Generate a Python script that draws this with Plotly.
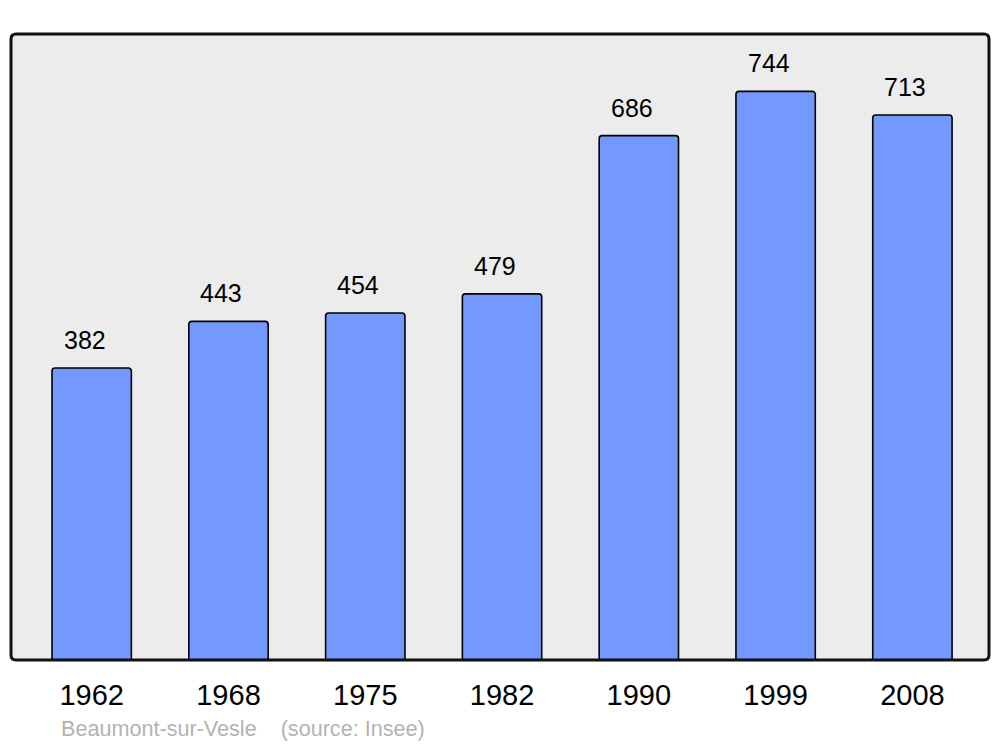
import plotly.graph_objects as go

years = ["1962", "1968", "1975", "1982", "1990", "1999", "2008"]
population = [382, 443, 454, 479, 686, 744, 713]
footer_text = "Beaumont-sur-Vesle    (source: Insee)"

# page has 8px body margin; figure sized to fit the 1000x747 window
W, H = 992, 739
L, R, T, B = 3, 11, 26, 87
pw, ph = W - L - R, H - T - B
FONT = "Liberation Sans, Arial, sans-serif"

fig = go.Figure()
fig.add_trace(go.Bar(
    x=years, y=population, width=0.58,
    marker=dict(color="#7399ff", line=dict(color="#000000", width=1.6), cornerradius=3),
    hoverinfo="x+y",
))

for i, v in enumerate(population):
    fig.add_annotation(x=i, y=v, text=str(v), showarrow=False, yanchor="bottom",
                       yshift=12, xshift=-7,
                       font=dict(size=25, color="#000000", family=FONT))

fig.add_annotation(xref="paper", yref="paper", x=(59 - 8 - L) / pw, y=(652 - 743 + 8) / ph,
                   xanchor="left", yanchor="bottom", text=footer_text, showarrow=False,
                   font=dict(size=21.6, color="#b3b3b3", family=FONT))

# rounded border around the plot area
r = 5
rx, ry = r / pw, r / ph
path = (f"M {rx},0 L {1-rx},0 Q 1,0 1,{ry} L 1,{1-ry} Q 1,1 {1-rx},1 "
        f"L {rx},1 Q 0,1 0,{1-ry} L 0,{ry} Q 0,0 {rx},0 Z")
fig.add_shape(type="path", xref="paper", yref="paper", path=path,
              line=dict(color="#111111", width=3), fillcolor="rgba(0,0,0,0)", layer="above")

fig.update_layout(
    width=W, height=H,
    margin=dict(l=L, r=R, t=T, b=B),
    paper_bgcolor="#ffffff", plot_bgcolor="#ececec",
    showlegend=False,
    font=dict(family=FONT, color="#000000"),
)
fig.update_xaxes(type="category", range=[-0.59, 6.56], showgrid=False, zeroline=False,
                 showline=False, ticks="", tickfont=dict(size=29, color="#000000"),
                 ticklabelstandoff=15)
fig.update_yaxes(range=[0, 819], showgrid=False, zeroline=False, showline=False,
                 showticklabels=False, ticks="")

fig.write_html("out.html")
